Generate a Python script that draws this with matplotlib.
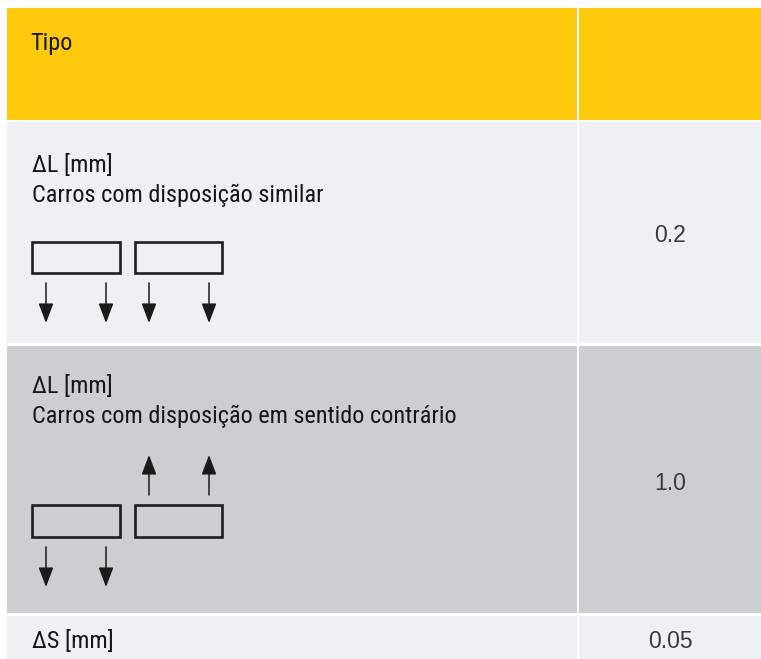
import matplotlib
matplotlib.use("Agg")
import matplotlib.pyplot as plt
from matplotlib.patches import Rectangle

# ---- data ----
header_label = "Tipo"
header_value = ""
row_titles = ["ΔL [mm]", "ΔL [mm]", "ΔS [mm]"]
row_subtitles = ["Carros com disposição similar",
                 "Carros com disposição em sentido contrário", ""]
row_values = ["0.2", "1.0", "0.05"]
# arrow directions for the two carriages in each diagram row
carriage_arrows = [["down", "down"], ["down", "up"]]

# ---- styling / layout ----
W, H = 761, 659
YELLOW = "#FFC90B"
LIGHT = "#EFF0F2"
DARK = "#CDCED0"
TXT = "#161616"
VTXT = "#3a3a3a"
LABEL_FONT = ["Roboto Condensed", "Archivo Narrow", "DejaVu Sans"]
VALUE_FONT = ["Liberation Sans", "Roboto", "DejaVu Sans"]

x0, xdiv, x1 = 7, 577, 761
colgap = 2
row_bounds = [(8, 120), (122, 343), (346, 613), (616, 659)]
row_colors = [YELLOW, LIGHT, DARK, LIGHT]

fig = plt.figure(figsize=(W / 100, H / 100), dpi=100)
ax = fig.add_axes([0, 0, 1, 1])
ax.set_xlim(0, W)
ax.set_ylim(H, 0)
ax.axis("off")
fig.patch.set_facecolor("white")

for (t, b), c in zip(row_bounds, row_colors):
    ax.add_patch(Rectangle((x0, t), xdiv - x0, b - t, facecolor=c, edgecolor="none"))
    ax.add_patch(Rectangle((xdiv + colgap, t), x1 - xdiv - colgap, b - t,
                           facecolor=c, edgecolor="none"))

fs_label = 17.5
fw_label = "normal"
fs_value = 16.5
tx = 32

# header
ax.text(30, 50, header_label, fontsize=fs_label, fontweight=fw_label,
        family=LABEL_FONT, color=TXT, va="baseline", ha="left")
vc = (xdiv + colgap + x1) / 2
ax.text(vc, (row_bounds[0][0] + row_bounds[0][1]) / 2, header_value,
        fontsize=fs_value, family=VALUE_FONT, color=VTXT, ha="center", va="center")

title_baselines = [172, 393, 648]
for i, (title, sub, val) in enumerate(zip(row_titles, row_subtitles, row_values)):
    t, b = row_bounds[i + 1]
    ax.text(tx, title_baselines[i], title, fontsize=fs_label, fontweight=fw_label,
            family=LABEL_FONT, color=TXT, va="baseline", ha="left")
    if sub:
        ax.text(tx, title_baselines[i] + 30, sub, fontsize=fs_label, fontweight=fw_label,
                family=LABEL_FONT, color=TXT, va="baseline", ha="left")
    ax.text(vc, (t + b) / 2 + 1, val, fontsize=fs_value, family=VALUE_FONT, color=VTXT,
            ha="center", va="center_baseline")

# diagrams
rect_x = [(32, 120), (135, 222)]
arrow_x = [(46, 106), (149, 209)]
rect_y = [(242, 273), (505, 537)]
for r, dirs in enumerate(carriage_arrows):
    ry0, ry1 = rect_y[r]
    for k, d in enumerate(dirs):
        rx0, rx1 = rect_x[k]
        ax.add_patch(Rectangle((rx0, ry0), rx1 - rx0, ry1 - ry0, facecolor="none",
                               edgecolor="#1e1e1e", linewidth=1.9))
        for ax_x in arrow_x[k]:
            if d == "down":
                tail, tip = (ax_x, ry1 + 10), (ax_x, ry1 + 50)
            else:
                tail, tip = (ax_x, ry0 - 10), (ax_x, ry0 - 50)
            ax.annotate("", xy=tip, xytext=tail,
                        arrowprops=dict(arrowstyle="-|>,head_length=1.0,head_width=0.38",
                                        mutation_scale=12, lw=1.1, color="#1a1a1a",
                                        shrinkA=0, shrinkB=0))

fig.savefig("out.png", dpi=100, facecolor="white")
